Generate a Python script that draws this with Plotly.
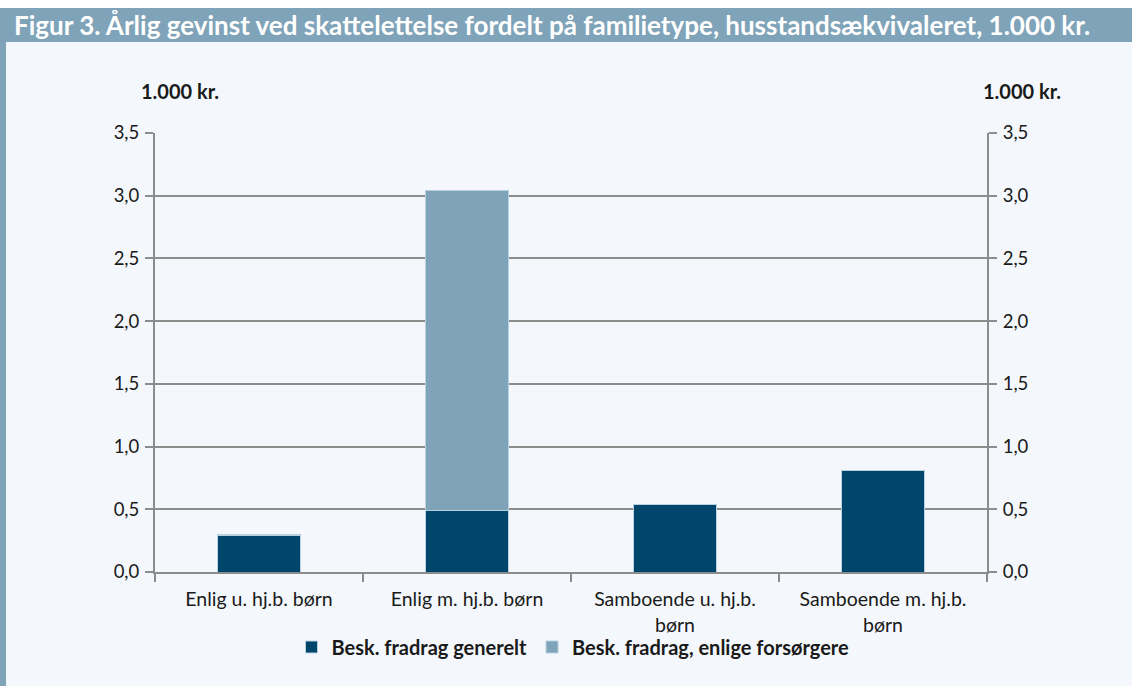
import plotly.graph_objects as go

categories = ["Enlig u. hj.b. børn", "Enlig m. hj.b. børn", "Samboende u. hj.b.<br>børn", "Samboende m. hj.b.<br>børn"]
generelt = [0.29, 0.49, 0.535, 0.81]
enlige = [0.01, 2.55, 0.0, 0.0]
tick_vals = [0, 0.5, 1.0, 1.5, 2.0, 2.5, 3.0, 3.5]
tick_text = ["0,0", "0,5", "1,0", "1,5", "2,0", "2,5", "3,0", "3,5"]

DARK = "#00456c"
LIGHT = "#7fa3b8"
BG = "#f4f8fc"
GRID = "#8c8c8c"
FONT = "Lato"

W, H = 1132, 686
L, R, T, B = 155, 987, 133, 572

def px(x):
    return (x - L) / (R - L)

def py(y):
    return (B - y) / (B - T)

fig = go.Figure()
fig.add_bar(x=categories, y=generelt, name="Besk. fradrag generelt",
            marker=dict(color=DARK, line=dict(color="#b9d0de", width=1)))
fig.add_bar(x=categories, y=enlige, name="Besk. fradrag, enlige forsørgere",
            marker=dict(color=LIGHT, line=dict(color="#b9d0de", width=1)))
# invisible trace for right axis
fig.add_scatter(x=categories, y=generelt, yaxis="y2", mode="markers",
                marker=dict(opacity=0), showlegend=False, hoverinfo="skip")

axis_common = dict(range=[0, 3.5], tickvals=tick_vals, ticktext=tick_text,
                   showline=True, linecolor=GRID, linewidth=2,
                   ticks="outside", ticklen=8, tickcolor=GRID, tickwidth=2,
                   ticklabelstandoff=2,
                   tickfont=dict(family=FONT, size=18.5, color="#1a1a1a"))

fig.update_layout(
    width=W, height=H,
    margin=dict(l=L, r=W - R, t=T, b=H - B),
    paper_bgcolor=BG, plot_bgcolor=BG,
    barmode="stack", bargap=0.6,
    font=dict(family=FONT, color="#1a1a1a"),
    xaxis=dict(showline=True, linecolor=GRID, linewidth=2, ticks="outside",
               tickson="boundaries", ticklen=8, tickcolor=GRID, tickwidth=2,
               ticklabelstandoff=9,
               tickfont=dict(family=FONT, size=19.5, color="#1a1a1a"), showgrid=False),
    yaxis=dict(showgrid=True, gridcolor=GRID, gridwidth=2, zeroline=False, **axis_common),
    yaxis2=dict(overlaying="y", side="right", showgrid=False, zeroline=False, **axis_common),
    legend=dict(orientation="h", x=px(573), xanchor="center", y=py(647), yanchor="middle",
                font=dict(family=FONT, size=20, color="#1a1a1a", weight="bold"),
                bgcolor="rgba(0,0,0,0)", itemwidth=30, traceorder="normal"),
    showlegend=True,
)

shapes = [
    dict(type="rect", xref="paper", yref="paper", x0=px(0), x1=px(W), y0=py(0), y1=py(8),
         fillcolor="white", line=dict(width=0), layer="below"),
    dict(type="rect", xref="paper", yref="paper", x0=px(0), x1=px(W), y0=py(8), y1=py(42),
         fillcolor=LIGHT, line=dict(width=0), layer="below"),
    dict(type="rect", xref="paper", yref="paper", x0=px(0), x1=px(6), y0=py(42), y1=py(H),
         fillcolor=LIGHT, line=dict(width=0), layer="below"),
]
fig.update_layout(shapes=shapes)

fig.add_annotation(text="<b>Figur 3. Årlig gevinst ved skattelettelse fordelt på familietype, husstandsækvivaleret, 1.000 kr.</b>",
                   xref="paper", yref="paper", x=px(12), y=py(25), xanchor="left", yanchor="middle",
                   showarrow=False, font=dict(family=FONT, size=26, color="white"))
fig.add_annotation(text="<b>1.000 kr.</b>", xref="paper", yref="paper", x=px(180), y=py(91),
                   xanchor="center", yanchor="middle", showarrow=False,
                   font=dict(family=FONT, size=20, color="#1a1a1a"))
fig.add_annotation(text="<b>1.000 kr.</b>", xref="paper", yref="paper", x=px(1022), y=py(91),
                   xanchor="center", yanchor="middle", showarrow=False,
                   font=dict(family=FONT, size=20, color="#1a1a1a"))

fig.write_html("out.html", config={"displayModeBar": False},
               post_script="document.body.style.margin='0';document.body.style.overflow='hidden';")
